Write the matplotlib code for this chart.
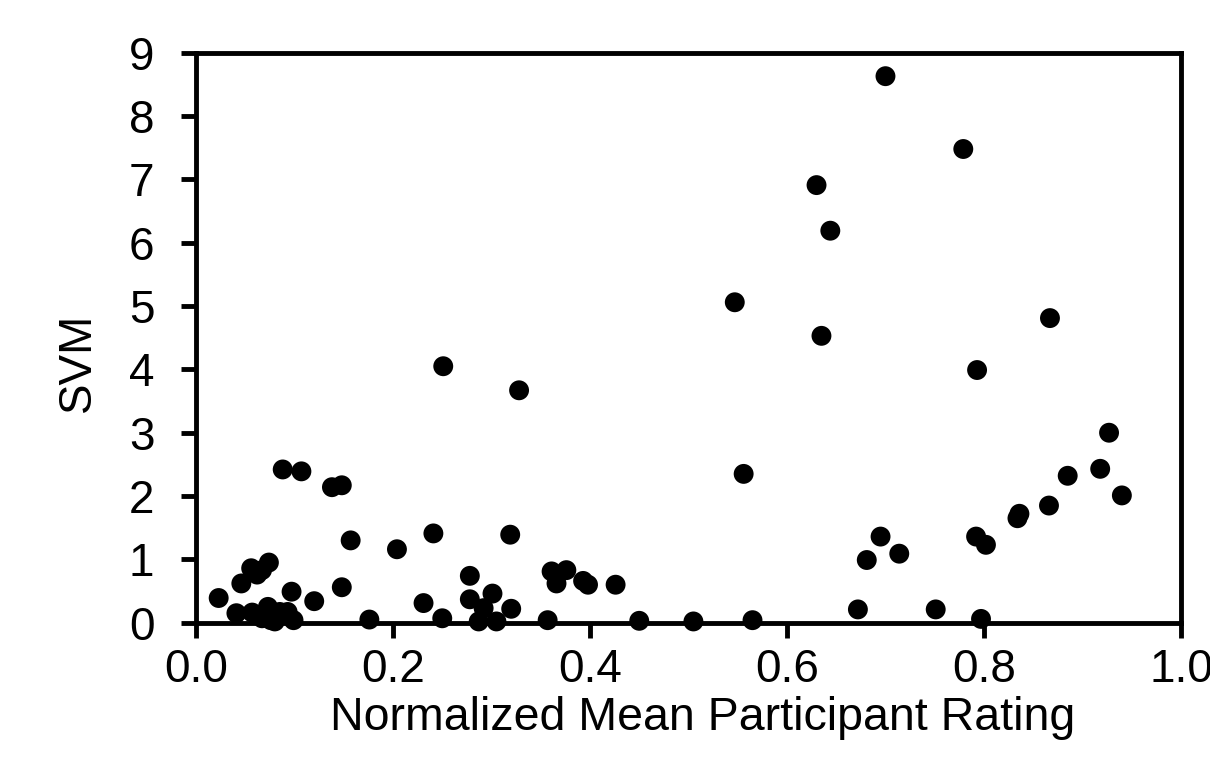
import matplotlib
matplotlib.use("Agg")
import matplotlib.pyplot as plt

rating = [0.023, 0.041, 0.046, 0.057, 0.056, 0.062, 0.067, 0.074, 0.067, 0.073,
          0.076, 0.080, 0.085, 0.093, 0.099, 0.097, 0.088, 0.107, 0.138, 0.148,
          0.157, 0.120, 0.148, 0.176, 0.204, 0.231, 0.241, 0.251, 0.250, 0.278,
          0.278, 0.287, 0.292, 0.301, 0.305, 0.319, 0.320, 0.328, 0.357, 0.361,
          0.366, 0.376, 0.393, 0.398, 0.426, 0.450, 0.505, 0.547, 0.556, 0.565,
          0.630, 0.635, 0.644, 0.672, 0.681, 0.695, 0.700, 0.714, 0.751, 0.779,
          0.793, 0.792, 0.802, 0.797, 0.834, 0.836, 0.867, 0.866, 0.885, 0.918,
          0.927, 0.940]
svm = [0.39, 0.15, 0.62, 0.16, 0.86, 0.76, 0.83, 0.95, 0.07, 0.25,
       0.04, 0.02, 0.17, 0.17, 0.04, 0.49, 2.42, 2.39, 2.14, 2.17,
       1.30, 0.34, 0.56, 0.05, 1.16, 0.31, 1.41, 4.05, 0.07, 0.74,
       0.37, 0.02, 0.23, 0.46, 0.02, 1.39, 0.22, 3.67, 0.04, 0.81,
       0.62, 0.83, 0.66, 0.60, 0.60, 0.03, 0.02, 5.06, 2.35, 0.04,
       6.91, 4.53, 6.19, 0.21, 0.99, 1.36, 8.63, 1.09, 0.21, 7.48,
       3.99, 1.36, 1.23, 0.06, 1.65, 1.72, 4.81, 1.85, 2.32, 2.43,
       3.00, 2.01]

x_ticks = [0.0, 0.2, 0.4, 0.6, 0.8, 1.0]
x_tick_labels = ["0.0", "0.2", "0.4", "0.6", "0.8", "1.0"]
y_ticks = list(range(0, 10))

plt.rcParams['font.family'] = ['Liberation Sans', 'DejaVu Sans']

fig = plt.figure(figsize=(12.1, 7.78), dpi=100)
ax = fig.add_axes([0.162, 0.1996, 0.814, 0.7326])
ax.scatter(rating, svm, s=205, c='black', edgecolors='none', zorder=3, clip_on=False)
ax.set_xlim(0, 1.0)
ax.set_ylim(0, 9)
ax.set_xticks(x_ticks)
ax.set_xticklabels(x_tick_labels)
ax.set_yticks(y_ticks)
for sp in ax.spines.values():
    sp.set_linewidth(3.5)
ax.tick_params(direction='out', length=11, width=3.5, labelsize=33)
ax.tick_params(axis='x', pad=7)
ax.tick_params(axis='y', pad=19)
ax.set_xlabel("Normalized Mean Participant Rating", fontsize=33.5, labelpad=3)
ax.set_ylabel("SVM", fontsize=33, labelpad=21)
ax.xaxis.label.set_x(0.514)
ax.yaxis.label.set_y(0.457)
fig.savefig("out.png", dpi=100)
